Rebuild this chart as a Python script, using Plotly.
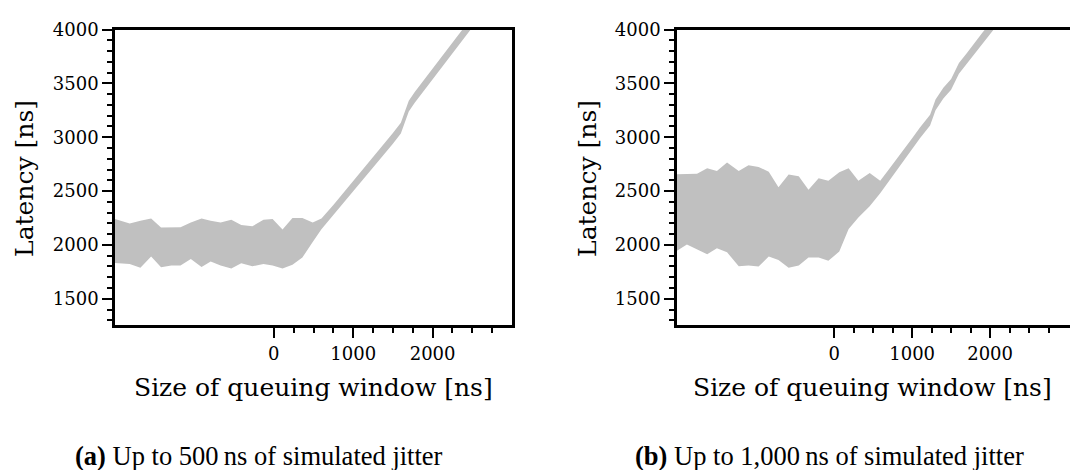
import plotly.graph_objects as go

# ---------------- data ----------------
# (a) up to 500 ns jitter
x_a = [-2000, -1815, -1680, -1545, -1420, -1290, -1175, -1045, -910, -795, -670,
       -535, -410, -270, -130, -15, 110, 235, 360, 490,
       600, 750, 875, 1000, 1125, 1250, 1375, 1500, 1600, 1650, 1700, 1775,
       1900, 2000, 2125, 2250, 2375, 2500]
hi_a = [2240, 2200, 2225, 2246, 2161, 2163, 2164, 2209, 2246, 2225, 2209,
        2234, 2186, 2173, 2234, 2240, 2143, 2249, 2249, 2209,
        2245, 2370, 2480, 2590, 2700, 2815, 2930, 3040, 3135, 3230, 3340, 3420,
        3540, 3640, 3760, 3880, 4000, 4120]
lo_a = [1832, 1823, 1787, 1892, 1793, 1808, 1810, 1869, 1796, 1847, 1808,
        1781, 1829, 1802, 1823, 1810, 1781, 1817, 1883, 2028,
        2145, 2270, 2380, 2490, 2600, 2715, 2830, 2940, 3035, 3130, 3240, 3320,
        3440, 3540, 3660, 3780, 3900, 4020]

# (b) up to 1,000 ns jitter
x_b = [-2020, -1890, -1760, -1630, -1505, -1375, -1225, -1100, -970, -840, -715,
       -585, -455, -330, -200, -75, 65, 185, 310, 455, 590,
       700, 850, 1000, 1100, 1230, 1300, 1400, 1500, 1600, 1700, 1800,
       1900, 2000, 2100]
hi_b = [2657, 2660, 2662, 2711, 2687, 2765, 2687, 2741, 2723, 2680, 2535,
        2653, 2638, 2512, 2620, 2596, 2675, 2711, 2596, 2668, 2596,
        2700, 2840, 2990, 3090, 3210, 3350, 3460, 3540, 3690, 3780, 3880,
        3970, 4060, 4150]
lo_b = [1944, 2004, 1959, 1914, 1968, 1932, 1802, 1808, 1799, 1892, 1859,
        1787, 1808, 1883, 1883, 1853, 1938, 2149, 2255, 2360, 2481,
        2600, 2740, 2890, 2990, 3110, 3250, 3360, 3440, 3590, 3680, 3780,
        3870, 3960, 4050]

x_ticks = [0, 1000, 2000]
y_ticks = [1500, 2000, 2500, 3000, 3500, 4000]
captions = ["<b>(a)</b> Up to 500\u2009ns of simulated jitter",
            "<b>(b)</b> Up to 1,000\u2009ns of simulated jitter"]
x_title = "Size of queuing window [ns]"
y_title = "Latency [ns]"

# ---------------- figure ----------------
W, H = 1070, 470
FILL = "#c0c0c0"
SERIF = "DejaVu Serif"

fig = go.Figure()
for xs, hi, lo, xa, ya in [(x_a, hi_a, lo_a, "x", "y"), (x_b, hi_b, lo_b, "x2", "y2")]:
    fig.add_trace(go.Scatter(
        x=xs + xs[::-1], y=hi + lo[::-1], mode="lines", fill="toself",
        fillcolor=FILL, line=dict(width=0, color=FILL), xaxis=xa, yaxis=ya,
        hoverinfo="skip", showlegend=False))

x_minor = [v for v in range(250, 3000, 250) if v not in x_ticks]
y_minor = [v for v in range(1300, 4000, 100) if v % 500 != 0]

def xaxis(domain, rng, anchor):
    return dict(domain=domain, range=rng, anchor=anchor, showline=True, linewidth=2.5,
                linecolor="black", mirror=True, ticks="outside", tickmode="array",
                tickvals=x_ticks, ticklen=10, tickwidth=2, tickcolor="black",
                ticklabelstandoff=0,
                minor=dict(tickmode="array", tickvals=x_minor, ticks="outside",
                           ticklen=5, tickwidth=1.5, tickcolor="black"),
                showgrid=False, zeroline=False,
                tickfont=dict(family=SERIF, size=18, color="black"))

def yaxis(domain, anchor, mirror):
    return dict(domain=domain, range=[1252, 4000], anchor=anchor, showline=True,
                linewidth=2.5, linecolor="black", mirror=mirror, ticks="outside",
                tickmode="array", tickvals=y_ticks, ticklen=10, tickwidth=2,
                tickcolor="black", ticklabelstandoff=0,
                minor=dict(tickmode="array", tickvals=y_minor, ticks="outside",
                           ticklen=5, tickwidth=1.5, tickcolor="black"),
                showgrid=False, zeroline=False,
                tickfont=dict(family=SERIF, size=18, color="black"))

ydom = [1 - 322 / H, 1 - 19 / H]
fig.update_layout(
    width=W, height=H, margin=dict(l=0, r=0, t=0, b=0),
    paper_bgcolor="white", plot_bgcolor="white", showlegend=False,
    xaxis=xaxis([115 / W, 512 / W], [-2000, 3000], "y"),
    yaxis=yaxis(ydom, "x", True),
    xaxis2=xaxis([677 / W, 1.0], [-2017, 3025], "y2"),
    yaxis2=yaxis(ydom, "x2", False),
)

ann = []
for cx, cyt, ycx, cap_x, cap in [(313, 386, 25, 259, captions[0]),
                                  (872, 386, 588, 829, captions[1])]:
    ann.append(dict(x=cx / W, y=1 - cyt / H, xref="paper", yref="paper", text=x_title,
                    showarrow=False, xanchor="center", yanchor="middle",
                    font=dict(family=SERIF, size=25, color="black")))
    ann.append(dict(x=ycx / W, y=1 - 172 / H, xref="paper", yref="paper", text=y_title,
                    showarrow=False, xanchor="center", yanchor="middle", textangle=-90,
                    font=dict(family=SERIF, size=25, color="black")))
    ann.append(dict(x=cap_x / W, y=1 - 456 / H, xref="paper", yref="paper", text=cap,
                    showarrow=False, xanchor="center", yanchor="middle",
                    font=dict(family="Liberation Serif", size=26.5, color="black")))
fig.update_layout(annotations=ann)

fig.write_html("out.html")
